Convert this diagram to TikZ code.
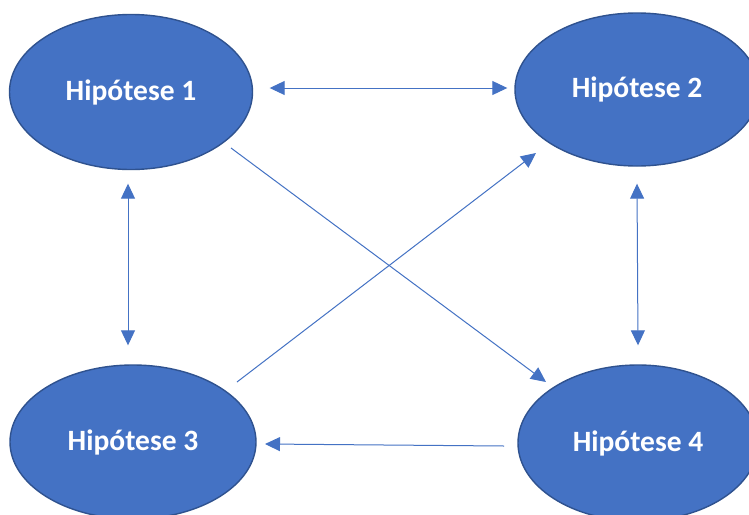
\documentclass[tikz,border=0pt]{standalone}
\usepackage{fontspec}
\setmainfont{Carlito}
\usetikzlibrary{shapes.geometric,arrows.meta,calc}
\definecolor{hfill}{HTML}{4472C4}
\definecolor{hborder}{HTML}{2F528F}
\definecolor{hline}{HTML}{4472C4}
\newcommand{\hyptext}[1]{\raisebox{-2.5pt}{#1}}
\tikzset{
  hyp/.style={ellipse, draw=hborder, line width=1.4pt, fill=hfill, inner sep=0pt,
    text=white, font=\fontsize{29.5}{33}\selectfont\bfseries},
  conn/.style={draw=hline, line width=1pt},
  tip/.style={-{Triangle[length=15pt,width=14pt]}},
  tips/.style={{Triangle[length=15pt,width=14pt]}-{Triangle[length=15pt,width=14pt]}}
}
\begin{document}
\begin{tikzpicture}[x=1pt,y=1pt]
\clip (0,0) rectangle (749,-514);
\fill[white] (0,0) rectangle (749,-514);
\node[hyp, minimum width=243pt, minimum height=155pt] (h1) at (131,-92) {\hyptext{Hipótese 1}};
\node[hyp, minimum width=244pt, minimum height=153pt] (h2) at (637,-89.5) {\hyptext{Hipótese 2}};
\node[hyp, minimum width=246pt, minimum height=154pt] (h3) at (133,-442) {\hyptext{Hipótese 3}};
\node[hyp, minimum width=240pt, minimum height=156pt] (h4) at (638,-443) {\hyptext{Hipótese 4}};
% H1 <-> H2
\draw[conn, tips] ([shift={(16.5,4)}]h1.east) -- ([shift={(-7,1.5)}]h2.west);
% H1 <-> H3
\draw[conn, tips] ([shift={(-3,-13.5)}]h1.south) -- ([shift={(-5,19)}]h3.north);
% H2 <-> H4
\draw[conn, tips] ([shift={(0,-17)}]h2.south) -- ([shift={(0,19)}]h4.north);
% H1 -> H4
\draw[conn, tip] ([shift={(100,-56)}]h1.center) -- ([shift={(-92,61)}]h4.center);
% H3 -> H2
\draw[conn, tip] ([shift={(104,60)}]h3.center) -- ([shift={(-101,-63.5)}]h2.center);
% H4 -> H3
\draw[conn, tip] ([shift={(-134,-3)}]h4.center) -- ([shift={(132,-2)}]h3.center);
\end{tikzpicture}
\end{document}
